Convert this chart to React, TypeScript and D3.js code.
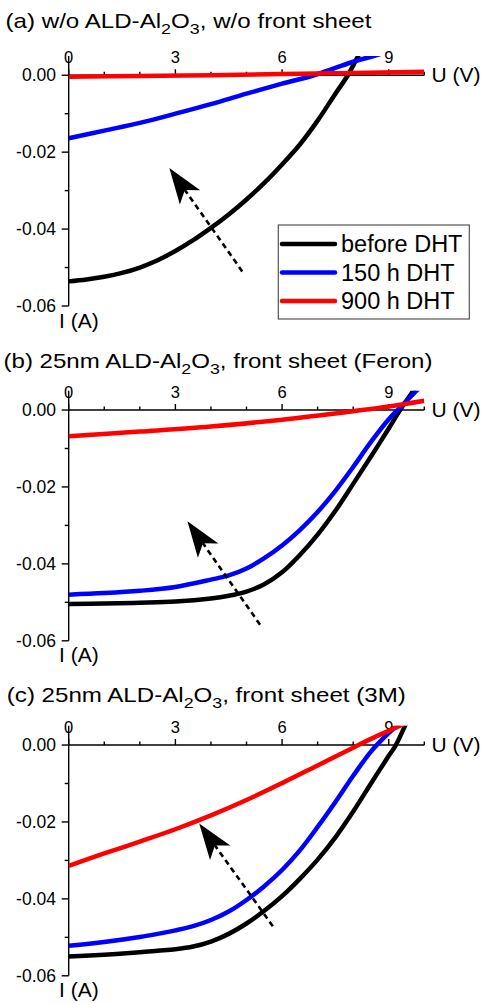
import * as d3 from "d3";

type Pt = [number, number];

// I-V curves: [U (V), I (A)]
const aBefore: Pt[] = [
  [0, -0.0536], [0.5, -0.0531], [1, -0.0524], [1.5, -0.0514], [2, -0.05],
  [2.5, -0.0481], [3, -0.0457], [3.5, -0.0429], [4, -0.0397], [4.5, -0.0362],
  [5, -0.0323], [5.5, -0.028], [6, -0.0232], [6.5, -0.018], [7, -0.0118],
  [7.5, -0.0048], [7.85, 0], [8.14, 0.005], [8.3, 0.0075],
];
const a150: Pt[] = [
  [0, -0.0164], [1, -0.0144], [2, -0.0124], [3, -0.01], [4, -0.0075],
  [5, -0.0048], [6, -0.0022], [6.9, 0], [7.5, 0.0019], [8, 0.0035],
  [8.57, 0.005], [9, 0.0062],
];
const a900: Pt[] = [
  [0, -0.0004], [2, -0.0002], [4, 0], [6, 0.0003], [8, 0.0006], [10, 0.0009],
];

const bBefore: Pt[] = [
  [0, -0.0504], [1, -0.0503], [2, -0.0501], [3, -0.0498], [4, -0.049],
  [4.5, -0.0483], [5, -0.0472], [5.5, -0.0453], [6, -0.0422], [6.5, -0.0377],
  [7, -0.0324], [7.5, -0.0262], [8, -0.0192], [8.5, -0.0121], [9, -0.0048],
  [9.32, 0], [9.69, 0.005], [9.9, 0.008],
];
const b150: Pt[] = [
  [0, -0.048], [1, -0.0476], [2, -0.047], [3, -0.046], [4, -0.0441],
  [4.5, -0.043], [5, -0.0412], [5.5, -0.0385], [6, -0.0352], [6.5, -0.0312],
  [7, -0.0265], [7.5, -0.021], [8, -0.0148], [8.5, -0.0083], [9, -0.0024],
  [9.3, 0.0005], [9.78, 0.005], [10, 0.0072],
];
const b900: Pt[] = [
  [0, -0.0068], [2, -0.0056], [4, -0.0043], [6, -0.0025], [8, -0.0003],
  [9, 0.0009], [10, 0.0024],
];

const cBefore: Pt[] = [
  [0, -0.055], [1, -0.0545], [2, -0.0539], [2.5, -0.0535], [3, -0.0531],
  [3.5, -0.0524], [4, -0.0511], [4.5, -0.0491], [5, -0.0464], [5.5, -0.0431],
  [6, -0.0393], [6.5, -0.0348], [7, -0.0298], [7.5, -0.024], [8, -0.0173],
  [8.5, -0.01], [9, -0.0028], [9.2, 0], [9.46, 0.005], [9.6, 0.0075],
];
const c150: Pt[] = [
  [0, -0.0522], [1, -0.0512], [2, -0.0499], [2.5, -0.0491], [3, -0.0482],
  [3.5, -0.0471], [4, -0.0455], [4.5, -0.0433], [5, -0.0403], [5.5, -0.0367],
  [6, -0.0325], [6.5, -0.0274], [7, -0.0213], [7.5, -0.0148], [8, -0.008],
  [8.5, -0.0017], [8.94, 0.0026], [9.22, 0.005], [9.4, 0.0068],
];
const c900: Pt[] = [
  [0, -0.0314], [1, -0.0282], [2, -0.0251], [3, -0.0219], [4, -0.0183],
  [5, -0.0143], [6, -0.0099], [7, -0.0053], [8, -0.0007], [8.5, 0.0016],
  [9, 0.0037], [9.32, 0.005], [9.6, 0.0062],
];

// dashed arrows [tail, tip] in data units
const arrowA: Pt[] = [[4.88, -0.051], [2.83, -0.0241]];
const arrowB: Pt[] = [[5.38, -0.0558], [3.34, -0.0289]];
const arrowC: Pt[] = [[5.74, -0.0471], [3.67, -0.0204]];

const seriesNames = ["before DHT", "150 h DHT", "900 h DHT"];
const seriesColors = ["#000000", "#0000ff", "#ff0000"];

const xMajor = [0, 3, 6, 9];
const xMinor = [1, 2, 4, 5, 7, 8, 10];
const yMajor = [0, -0.02, -0.04, -0.06];
const yMinor = [-0.01, -0.03, -0.05];

const panels = [
  { pre: "(a) w/o ALD-Al", post: ", w/o front sheet", top: 56, titleX: 5.5, titleY: 28.3, titleW: 366, curves: [aBefore, a150, a900], arrow: arrowA, legend: true },
  { pre: "(b) 25nm ALD-Al", post: ", front sheet (Feron)", top: 390.8, titleX: 3.5, titleY: 367.5, titleW: 429, curves: [bBefore, b150, b900], arrow: arrowB, legend: false },
  { pre: "(c) 25nm ALD-Al", post: ", front sheet (3M)", top: 725.8, titleX: 6.8, titleY: 702.3, titleW: 399, curves: [cBefore, c150, c900], arrow: arrowC, legend: false },
];

const W = 482;
const H = 1003;
const FONT = "'Liberation Sans', Arial, sans-serif";
const PLOT_H = 250;

const x = d3.scaleLinear().domain([0, 10]).range([68.7, 424.3]);

function Arrow({ pts, y }: { pts: Pt[]; y: d3.ScaleLinear<number, number> }) {
  const [t, h] = pts;
  const x1 = x(t[0]), y1 = y(t[1]);
  const x2 = x(h[0]), y2 = y(h[1]);
  const len = Math.hypot(x2 - x1, y2 - y1);
  const ux = (x2 - x1) / len, uy = (y2 - y1) / len;
  const nx = -uy, ny = ux;
  const L = 36, hw = 12.5, notch = 27;
  const head = [
    [x2, y2],
    [x2 - ux * L + nx * hw, y2 - uy * L + ny * hw],
    [x2 - ux * notch, y2 - uy * notch],
    [x2 - ux * L - nx * hw, y2 - uy * L - ny * hw],
  ];
  return (
    <g>
      <line x1={x1} y1={y1} x2={x2 - ux * notch} y2={y2 - uy * notch}
        stroke="#000" strokeWidth={2.6} strokeDasharray="5.5,4" />
      <path d={"M" + head.map((p) => p.join(",")).join("L") + "Z"} fill="#000" />
    </g>
  );
}

function Panel({ p, idx }: { p: (typeof panels)[number]; idx: number }) {
  const y = d3.scaleLinear().domain([-0.06, 0.005]).range([p.top + PLOT_H, p.top]);
  const y0 = y(0);
  const line = d3.line<Pt>().x((d) => x(d[0])).y((d) => y(d[1])).curve(d3.curveCatmullRom.alpha(0.5));
  const clipId = `clip${idx}`;

  return (
    <g>
      <defs>
        <clipPath id={clipId}>
          <rect x={x(0)} y={y(0.005)} width={x(10) - x(0)} height={y(-0.06) - y(0.005)} />
        </clipPath>
      </defs>

      {/* title: the original glyphs are wider than Arial, so stretch to its width */}
      <text x={p.titleX} y={p.titleY} textLength={p.titleW} lengthAdjust="spacingAndGlyphs"
        fontSize={21} fontFamily={FONT} fill="#000">
        {p.pre}
        <tspan fontSize={15.5} dy={6}>2</tspan>
        <tspan fontSize={21} dy={-6}>O</tspan>
        <tspan fontSize={15.5} dy={6}>3</tspan>
        <tspan fontSize={21} dy={-6}>{p.post}</tspan>
      </text>

      {/* x tick labels sit above the axis */}
      {xMajor.map((v) => (
        <text key={"xl" + v} x={x(v)} y={y0 - 12} textAnchor="middle" fontSize={16.5} fontFamily={FONT}>{v}</text>
      ))}
      {yMajor.map((v) => (
        <text key={"yl" + v} x={56} y={y(v)} dy="0.35em" textAnchor="end" fontSize={17.5} fontFamily={FONT}>{v.toFixed(2)}</text>
      ))}

      <g stroke="#000" strokeWidth={1.4}>
        <line x1={x(0)} x2={x(10)} y1={y0} y2={y0} />
        <line x1={x(0)} x2={x(0)} y1={y(0.005)} y2={y(-0.06)} />
        {xMajor.map((v) => <line key={"xt" + v} x1={x(v)} x2={x(v)} y1={y0} y2={y0 - 6} />)}
        {xMinor.map((v) => <line key={"xm" + v} x1={x(v)} x2={x(v)} y1={y0} y2={y0 - 3.5} />)}
        {yMajor.map((v) => <line key={"yt" + v} x1={x(0)} x2={x(0) - 7} y1={y(v)} y2={y(v)} />)}
        {yMinor.map((v) => <line key={"ym" + v} x1={x(0)} x2={x(0) - 4} y1={y(v)} y2={y(v)} />)}
      </g>

      <g clipPath={`url(#${clipId})`}>
        {p.curves.map((c, i) => (
          <path key={i} d={line(c) ?? ""} fill="none" stroke={seriesColors[i]} strokeWidth={4.5} />
        ))}
      </g>

      <Arrow pts={p.arrow} y={y} />

      <text x={431.5} y={y0 + 6.5} fontSize={21} fontFamily={FONT}>U (V)</text>
      <text x={59} y={y(-0.06) + 21.5} fontSize={21} fontFamily={FONT}>I (A)</text>

      {p.legend && (
        <g>
          <rect x={278.3} y={225} width={191} height={94} fill="#fff" stroke="#555" strokeWidth={1.2} />
          {seriesNames.map((n, i) => (
            <g key={n} transform={`translate(0,${244 + i * 28.5})`}>
              <line x1={282} x2={335} y1={0} y2={0} stroke={seriesColors[i]} strokeWidth={4.5} strokeLinecap="round" />
              <text x={341} y={8.3} fontSize={23.5} fontFamily={FONT}>{n}</text>
            </g>
          ))}
        </g>
      )}
    </g>
  );
}

export default function App() {
  return (
    <svg width={W} height={H} viewBox={`0 0 ${W} ${H}`}
      style={{ position: "absolute", left: 0, top: 0, background: "#fff" }}>
      <rect width={W} height={H} fill="#fff" />
      {panels.map((p, i) => <Panel key={i} p={p} idx={i} />)}
    </svg>
  );
}
